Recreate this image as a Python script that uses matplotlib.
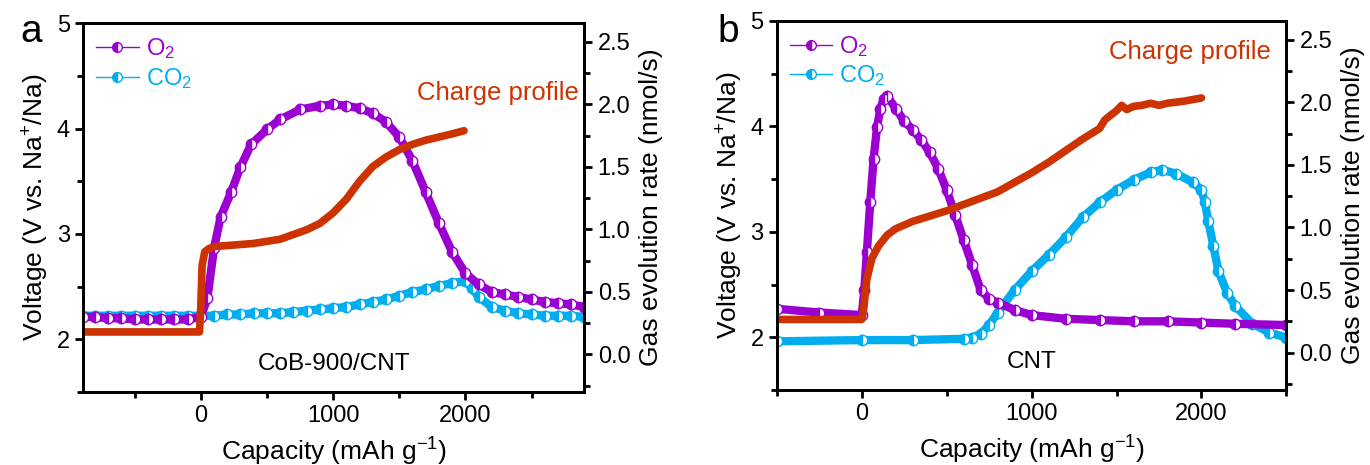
import numpy as np
import matplotlib
matplotlib.use("Agg")
import matplotlib.pyplot as plt
from matplotlib.lines import Line2D
from matplotlib.ticker import MultipleLocator

plt.rcParams['font.family'] = ['Liberation Sans', 'DejaVu Sans']
plt.rcParams['mathtext.fontset'] = 'custom'
plt.rcParams['mathtext.rm'] = 'Liberation Sans'
plt.rcParams['mathtext.it'] = 'Liberation Sans'

# colours
o2_color = '#9B00D0'
co2_color = '#00AEEF'
charge_color = '#CC3300'

# panel a: CoB-900/CNT
a_charge_x = [-890, -10, 0, 10, 30, 60, 100, 200, 400, 600, 800, 900, 1000, 1100,
              1200, 1300, 1400, 1500, 1600, 1700, 1800, 1900, 1990]
a_charge_v = [2.07, 2.07, 2.3, 2.7, 2.83, 2.86, 2.88, 2.89, 2.91, 2.95, 3.04, 3.1, 3.2,
              3.33, 3.5, 3.64, 3.73, 3.8, 3.85, 3.89, 3.92, 3.95, 3.98]

a_o2_x = [-890, -800, -700, -600, -500, -400, -300, -200, -100, 0, 50, 100, 150, 230,
          300, 380, 500, 600, 750, 900, 1000, 1100, 1200, 1300, 1400, 1500, 1600,
          1700, 1800, 1900, 2000, 2100, 2200, 2300, 2400, 2500, 2600, 2700, 2800, 2900]
a_o2_r = [0.30, 0.30, 0.29, 0.29, 0.28, 0.28, 0.28, 0.28, 0.28, 0.30, 0.45, 0.85, 1.1,
          1.3, 1.5, 1.68, 1.8, 1.88, 1.96, 1.99, 2.0, 1.99, 1.97, 1.93, 1.86, 1.74,
          1.55, 1.3, 1.05, 0.82, 0.65, 0.56, 0.5, 0.48, 0.46, 0.44, 0.42, 0.41, 0.40, 0.38]

a_co2_x = [-890, -800, -700, -600, -500, -400, -300, -200, -100, 0, 100, 200, 300,
           400, 500, 600, 700, 800, 900, 1000, 1100, 1200, 1300, 1400, 1500, 1600,
           1700, 1800, 1900, 2000, 2050, 2100, 2200, 2300, 2400, 2500, 2600, 2700,
           2800, 2900]
a_co2_r = [0.31, 0.31, 0.31, 0.31, 0.31, 0.31, 0.31, 0.31, 0.31, 0.31, 0.31, 0.32,
           0.32, 0.33, 0.33, 0.33, 0.34, 0.35, 0.36, 0.37, 0.38, 0.40, 0.42, 0.44,
           0.47, 0.50, 0.52, 0.55, 0.57, 0.59, 0.53, 0.46, 0.38, 0.35, 0.33, 0.32,
           0.31, 0.31, 0.31, 0.30]

# panel b: CNT
b_charge_x = [-500, 0, 10, 30, 60, 100, 150, 200, 300, 400, 500, 600, 700, 800, 900,
              1000, 1100, 1200, 1300, 1400, 1430, 1460, 1500, 1530, 1560, 1600, 1650,
              1700, 1750, 1800, 1900, 2000]
b_charge_v = [2.17, 2.17, 2.25, 2.55, 2.75, 2.87, 2.97, 3.03, 3.1, 3.15, 3.2, 3.26,
              3.32, 3.38, 3.47, 3.56, 3.66, 3.77, 3.88, 3.98, 4.06, 4.1, 4.15, 4.2,
              4.16, 4.19, 4.2, 4.22, 4.2, 4.22, 4.24, 4.27]

b_o2_x = [-500, -250, 0, 15, 30, 50, 70, 90, 110, 130, 150, 200, 250, 300, 350, 400,
          450, 500, 550, 600, 650, 700, 750, 800, 900, 1000, 1200, 1400, 1600, 1800,
          2000, 2200, 2500]
b_o2_r = [0.35, 0.32, 0.3, 0.5, 0.8, 1.2, 1.55, 1.8, 1.95, 2.03, 2.05, 1.95, 1.85,
          1.78, 1.7, 1.6, 1.47, 1.3, 1.1, 0.9, 0.7, 0.5, 0.43, 0.4, 0.34, 0.3, 0.27,
          0.26, 0.25, 0.25, 0.24, 0.23, 0.22]

b_co2_x = [-500, 0, 300, 600, 650, 700, 750, 800, 900, 1000, 1100, 1200, 1300, 1400,
           1500, 1600, 1700, 1770, 1850, 1950, 2000, 2020, 2040, 2070, 2100, 2150,
           2200, 2300, 2400, 2500]
b_co2_r = [0.09, 0.1, 0.1, 0.11, 0.12, 0.15, 0.22, 0.32, 0.5, 0.65, 0.78, 0.92, 1.08,
           1.2, 1.3, 1.38, 1.44, 1.46, 1.43, 1.36, 1.3, 1.2, 1.05, 0.85, 0.65, 0.48,
           0.37, 0.23, 0.16, 0.12]

panels = [
    dict(tag='a', name='CoB-900/CNT', xlim=(-890, 2900), rect=[0.0606, 0.157, 0.366, 0.793],
         charge=(a_charge_x, a_charge_v), o2=(a_o2_x, a_o2_r), co2=(a_co2_x, a_co2_r),
         charge_text=(0.988, 0.81), tag_pos=(-0.104, 0.975)),
    dict(tag='b', name='CNT', xlim=(-500, 2500), rect=[0.567, 0.161, 0.372, 0.794],
         charge=(b_charge_x, b_charge_v), o2=(b_o2_x, b_o2_r), co2=(b_co2_x, b_co2_r),
         charge_text=(0.97, 0.915), tag_pos=(-0.096, 0.97)),
]

fig = plt.figure(figsize=(13.7, 4.65), dpi=100)

for p in panels:
    ax = fig.add_axes(p['rect'])
    ax2 = ax.twinx()
    ax.set_zorder(ax2.get_zorder() + 1)
    ax.patch.set_visible(False)

    # gas evolution on the right axis
    for (x, r), c in [(p['co2'], co2_color), (p['o2'], o2_color)]:
        ax2.plot(x, r, color=c, lw=6, marker='o', ms=7.5, mew=1.0, fillstyle='left',
                 markerfacecoloralt='white', markeredgecolor=c)

    # charge profile on the left axis
    cx, cv = p['charge']
    ax.plot(cx, cv, color=charge_color, lw=5.5, solid_capstyle='round')

    ax.set_xlim(*p['xlim'])
    ax.set_ylim(1.5, 5)
    ax2.set_ylim(-0.3, 2.65)
    ax.xaxis.set_major_locator(MultipleLocator(1000))
    ax.xaxis.set_minor_locator(MultipleLocator(500))
    ax.yaxis.set_major_locator(MultipleLocator(1))
    ax.yaxis.set_minor_locator(MultipleLocator(0.5))
    ax2.yaxis.set_major_locator(MultipleLocator(0.5))
    ax2.yaxis.set_minor_locator(MultipleLocator(0.25))
    ax2.yaxis.set_major_formatter(plt.FormatStrFormatter('%.1f'))

    for a in (ax, ax2):
        for s in a.spines.values():
            s.set_linewidth(2)
        a.tick_params(which='major', length=6, width=2, labelsize=17, direction='out')
        a.tick_params(which='minor', length=4, width=2, direction='out')

    ax.set_xlabel('Capacity (mAh g$^{-1}$)', fontsize=19, labelpad=6)
    ax.set_ylabel('Voltage (V vs. Na$^{+}$/Na)', fontsize=19, labelpad=4)
    ax2.set_ylabel('Gas evolution rate (nmol/s)', fontsize=19, labelpad=6)

    ax.text(p['tag_pos'][0], p['tag_pos'][1], p['tag'], transform=ax.transAxes,
            fontsize=28, ha='center', va='center')
    ax.text(0.5, 0.075, p['name'], transform=ax.transAxes, fontsize=17.5,
            ha='center', va='center')
    ax.text(p['charge_text'][0], p['charge_text'][1], 'Charge profile',
            transform=ax.transAxes, fontsize=18.5, color=charge_color,
            ha='right', va='center')

    handles = [
        Line2D([], [], color=o2_color, lw=1, marker='o', ms=7, fillstyle='left',
               markerfacecoloralt='white', label='O$_2$'),
        Line2D([], [], color=co2_color, lw=1, marker='o', ms=7, fillstyle='left',
               markerfacecoloralt='white', label='CO$_2$'),
    ]
    ax.legend(handles=handles, loc='upper left', frameon=False, fontsize=17,
              labelcolor=[o2_color, co2_color], handlelength=1.8, handletextpad=0.3,
              borderaxespad=0.15, labelspacing=0.2)

fig.savefig('out.png', dpi=100)
